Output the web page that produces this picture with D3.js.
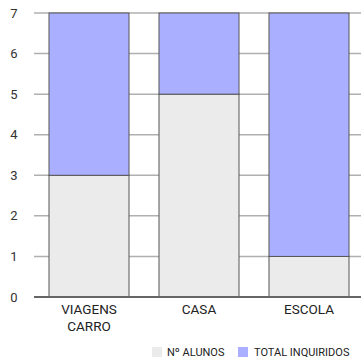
<!DOCTYPE html>
<html><head><meta charset="utf-8">
<script src="https://cdn.jsdelivr.net/npm/d3@7"></script>
<style>body{margin:0;background:#fff;}svg{display:block;font-family:Roboto,sans-serif;}</style>
</head><body>
<svg id="chart" width="361" height="363"></svg>
<script>
const categories = [["VIAGENS","CARRO"],["CASA"],["ESCOLA"]];
const seriesNames = ["Nº ALUNOS","TOTAL INQUIRIDOS"];
const alunos = [3,5,1];
const inquiridos = [4,2,6];
const yTicks = [0,1,2,3,4,5,6,7];
const colors = ["#ebebeb","#aab0ff"];

const svg = d3.select("#chart");
const W=361,H=363;
const x0=34, yBottom=297, yTop=13;
const keys = categories.map(c=>c.join(" "));
const x = d3.scaleBand().domain(keys).range([x0, 364]).paddingInner(30/110).paddingOuter(15/110);
const y = d3.scaleLinear().domain([0,7]).range([yBottom,yTop]);

// gridlines
svg.append("g").selectAll("line").data(yTicks.filter(t=>t>0)).join("line")
  .attr("x1",x0).attr("x2",W).attr("y1",d=>y(d)).attr("y2",d=>y(d))
  .attr("stroke","#b0b0b0").attr("stroke-width",1.5);

// y labels
svg.append("g").selectAll("text").data(yTicks).join("text")
  .attr("x",14).attr("y",d=>y(d)).attr("dy","0.35em").attr("text-anchor","middle")
  .attr("font-size",13).attr("fill","#333").text(d=>d);

const data = keys.map((k,i)=>({key:k, [seriesNames[0]]:alunos[i], [seriesNames[1]]:inquiridos[i]}));
const stack = d3.stack().keys(seriesNames)(data);

svg.append("g").selectAll("g").data(stack).join("g").attr("fill",(d,i)=>colors[i])
  .selectAll("rect").data(d=>d).join("rect")
  .attr("x",d=>x(d.data.key)).attr("width",x.bandwidth())
  .attr("y",d=>y(d[1])).attr("height",d=>y(d[0])-y(d[1]))
  .attr("stroke","#555").attr("stroke-width",1);

// baseline
svg.append("line").attr("x1",x0).attr("x2",W).attr("y1",y(0)).attr("y2",y(0))
  .attr("stroke","#666").attr("stroke-width",2);

// category labels
const cl = svg.append("g").selectAll("text").data(categories).join("text")
  .attr("x",(d,i)=>x(keys[i])+x.bandwidth()/2).attr("y",314)
  .attr("text-anchor","middle").attr("font-size",13.5).attr("fill","#222");
cl.selectAll("tspan").data(d=>d).join("tspan")
  .attr("x",function(){return this.parentNode.getAttribute("x");})
  .attr("dy",(d,i)=>i===0?0:17).text(d=>d);

// legend
const legX=[152,238];
const lg = svg.append("g").selectAll("g").data(seriesNames).join("g")
  .attr("transform",(d,i)=>`translate(${legX[i]},352)`);
lg.append("rect").attr("x",0).attr("y",-5).attr("width",10).attr("height",10).attr("fill",(d,i)=>colors[i]);
lg.append("text").attr("x",(d,i)=>i===0?15:16).attr("dy","0.35em").attr("font-size",11).attr("fill","#222").text(d=>d);
</script>
</body></html>
